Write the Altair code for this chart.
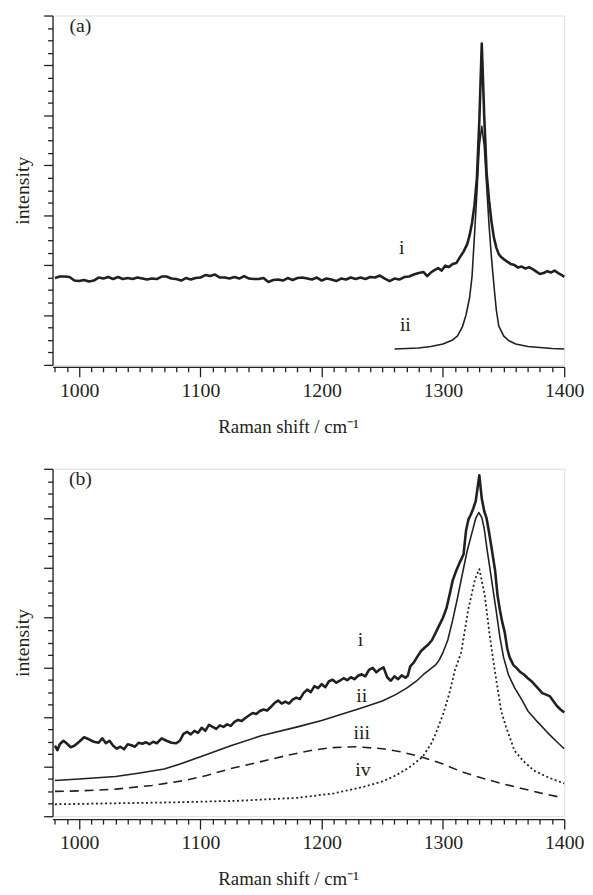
import altair as alt
import pandas as pd

INK = "#231f20"
FONT = "Liberation Serif"

# ---------------- panel (a) ----------------
a_i_x = [980, 984, 988, 992, 996, 1000, 1004, 1008, 1012, 1016, 1020, 1024, 1028, 1032, 1036, 1040,
         1044, 1048, 1052, 1056, 1060, 1064, 1068, 1072, 1076, 1080, 1084, 1088, 1092, 1096, 1100,
         1104, 1108, 1112, 1116, 1120, 1124, 1128, 1132, 1136, 1140, 1144, 1148, 1152, 1156, 1160,
         1164, 1168, 1172, 1176, 1180, 1184, 1188, 1192, 1196, 1200, 1204, 1208, 1212, 1216, 1220,
         1224, 1228, 1232, 1236, 1240, 1244, 1248, 1252, 1256, 1260, 1264, 1268, 1272, 1276, 1280,
         1284, 1287, 1290, 1293, 1296, 1299, 1302, 1305, 1308, 1311, 1314, 1317, 1320, 1322, 1324,
         1326, 1328, 1330, 1332, 1334, 1336, 1338, 1340, 1342, 1344, 1346, 1348, 1350, 1353, 1356,
         1359, 1362, 1365, 1368, 1371, 1374, 1377, 1380, 1383, 1386, 1389, 1392, 1395, 1398, 1400]
a_i_y = [1.74, 1.77, 1.77, 1.76, 1.69, 1.68, 1.70, 1.67, 1.69, 1.75, 1.73, 1.76, 1.72, 1.76, 1.72, 1.74,
         1.72, 1.75, 1.73, 1.71, 1.73, 1.72, 1.77, 1.77, 1.73, 1.72, 1.69, 1.74, 1.71, 1.74, 1.75,
         1.80, 1.78, 1.81, 1.75, 1.75, 1.73, 1.76, 1.73, 1.78, 1.73, 1.72, 1.72, 1.74, 1.66, 1.70,
         1.71, 1.69, 1.74, 1.70, 1.74, 1.75, 1.73, 1.71, 1.75, 1.69, 1.73, 1.71, 1.68, 1.73, 1.71,
         1.75, 1.72, 1.75, 1.72, 1.76, 1.75, 1.79, 1.73, 1.68, 1.73, 1.71, 1.76, 1.77, 1.81, 1.84,
         1.86, 1.78, 1.85, 1.90, 1.94, 1.89, 1.99, 1.96, 2.02, 2.04, 2.16, 2.27, 2.42, 2.60, 2.85,
         3.20, 3.75, 4.90, 6.44, 5.00, 3.85, 3.30, 2.87, 2.55, 2.35, 2.22, 2.16, 2.12, 2.07, 2.02,
         2.00, 1.95, 1.97, 1.93, 1.96, 1.92, 1.87, 1.82, 1.84, 1.88, 1.85, 1.89, 1.84, 1.80, 1.76]

a_ii_x = [1260, 1280, 1290, 1300, 1308, 1312, 1316, 1319, 1322, 1324, 1326, 1328, 1330, 1332,
          1334, 1336, 1338, 1340, 1342, 1344, 1346, 1350, 1354, 1360, 1370, 1380, 1390, 1400]
a_ii_y = [0.32, 0.34, 0.37, 0.42, 0.50, 0.58, 0.76, 1.00, 1.35, 1.78, 2.60, 3.45, 4.40, 4.78,
          4.40, 3.60, 2.80, 2.15, 1.60, 1.10, 0.78, 0.58, 0.49, 0.42, 0.37, 0.35, 0.33, 0.32]

# ---------------- panel (b) ----------------
b_i_x = [980, 982, 984, 987, 990, 993, 996, 1000, 1004, 1008, 1012, 1016, 1019, 1022, 1025, 1028,
         1031, 1034, 1037, 1040, 1043, 1046, 1049, 1052, 1055, 1058, 1061, 1064, 1068, 1072, 1076,
         1080, 1083, 1086, 1089, 1092, 1095, 1098, 1101, 1104, 1107, 1110, 1113, 1116, 1119, 1122,
         1125, 1128, 1131, 1134, 1137, 1140, 1143, 1146, 1149, 1152, 1155, 1158, 1161, 1164, 1167,
         1170, 1173, 1176, 1179, 1182, 1185, 1188, 1191, 1194, 1197, 1200, 1203, 1206, 1209, 1212,
         1215, 1218, 1221, 1224, 1227, 1230, 1233, 1236, 1239, 1242, 1245, 1248, 1251, 1254, 1257,
         1260, 1263, 1266, 1269, 1271, 1273, 1276, 1279, 1282, 1285, 1288, 1291, 1294, 1297, 1300,
         1303, 1306, 1308, 1311, 1314, 1317, 1319, 1321, 1323, 1325, 1327, 1330, 1332, 1334, 1336,
         1338, 1340, 1343, 1345, 1347, 1349, 1351, 1353, 1355, 1358, 1361, 1364, 1367, 1370, 1373,
         1376, 1379, 1382, 1385, 1388, 1391, 1394, 1397, 1400]
b_i_y = [1.42, 1.33, 1.45, 1.52, 1.46, 1.39, 1.42, 1.50, 1.59, 1.55, 1.50, 1.48, 1.57, 1.47, 1.52, 1.42,
         1.36, 1.40, 1.35, 1.45, 1.43, 1.40, 1.48, 1.46, 1.49, 1.45, 1.50, 1.47, 1.57, 1.52, 1.48,
         1.47, 1.52, 1.66, 1.70, 1.65, 1.72, 1.68, 1.78, 1.72, 1.84, 1.80, 1.76, 1.83, 1.80, 1.85,
         1.82, 1.90, 1.94, 1.92, 1.98, 2.03, 2.08, 2.06, 2.12, 2.15, 2.13, 2.20, 2.28, 2.33, 2.27,
         2.31, 2.27, 2.35, 2.39, 2.36, 2.48, 2.55, 2.50, 2.62, 2.58, 2.66, 2.60, 2.72, 2.75, 2.69,
         2.73, 2.78, 2.74, 2.80, 2.76, 2.83, 2.86, 2.82, 2.95, 2.99, 2.90, 2.96, 3.00, 2.80, 2.73,
         2.82, 2.76, 2.84, 2.79, 2.83, 3.02, 3.10, 3.22, 3.33, 3.40, 3.46, 3.55, 3.70, 3.85, 4.00,
         4.20, 4.52, 4.75, 4.95, 5.12, 5.28, 5.75, 5.98, 6.08, 6.20, 6.35, 6.87, 6.40, 6.15, 6.00,
         5.72, 5.42, 4.95, 4.45, 4.15, 3.90, 3.70, 3.38, 3.20, 3.05, 2.98, 2.90, 2.85, 2.78, 2.72,
         2.64, 2.56, 2.48, 2.45, 2.42, 2.32, 2.22, 2.15, 2.09]

b_ii_x = [980, 1000, 1030, 1050, 1070, 1082, 1100, 1125, 1150, 1180, 1200, 1234, 1250, 1261, 1270,
          1278, 1285, 1294, 1297, 1300, 1304, 1308, 1312, 1316, 1320, 1324, 1327, 1329.5, 1332,
          1334, 1336.5, 1339, 1342, 1344, 1347, 1350, 1354, 1359, 1365, 1370, 1378, 1386, 1393, 1400]
b_ii_y = [0.72, 0.75, 0.80, 0.87, 0.95, 1.04, 1.20, 1.42, 1.62, 1.80, 1.93, 2.19, 2.32, 2.45, 2.58,
          2.72, 2.88, 3.05, 3.15, 3.30, 3.55, 3.95, 4.40, 4.88, 5.35, 5.72, 6.00, 6.12, 6.02,
          5.80, 5.35, 4.95, 4.45, 4.12, 3.60, 3.20, 2.85, 2.59, 2.35, 2.12, 1.90, 1.69, 1.52, 1.36]

b_iii_x = [980, 1000, 1030, 1060, 1087, 1105, 1125, 1150, 1174, 1190, 1207, 1228, 1250, 1265, 1283,
           1300, 1316, 1332, 1348, 1365, 1380, 1397]
b_iii_y = [0.50, 0.51, 0.545, 0.62, 0.72, 0.82, 0.96, 1.10, 1.24, 1.32, 1.38, 1.40, 1.36, 1.30, 1.19,
           1.05, 0.89, 0.77, 0.66, 0.56, 0.47, 0.38]

b_iv_x = [980, 1030, 1080, 1130, 1180, 1210, 1234, 1250, 1261, 1272, 1283, 1290, 1294, 1300, 1305,
          1310, 1315, 1321, 1326.5, 1330, 1334.5, 1338.5, 1342, 1348, 1352, 1359, 1366, 1375, 1387, 1400]
b_iv_y = [0.24, 0.26, 0.28, 0.31, 0.37, 0.46, 0.59, 0.70, 0.82, 0.98, 1.19, 1.45, 1.66, 2.05, 2.45,
          2.95, 3.30, 4.18, 4.78, 4.98, 4.45, 3.65, 3.05, 2.12, 1.80, 1.32, 1.12, 0.92, 0.78, 0.66]

# ---------------- annotations ----------------
a_label_text = ["i", "ii"]
a_label_x = [1266, 1269]
a_label_y = [2.34, 0.79]
b_label_text = ["i", "ii", "iii", "iv"]
b_label_x = [1232, 1233, 1233, 1234]
b_label_y = [3.55, 2.42, 1.67, 0.93]
panel_text = ["(a)", "(b)"]
panel_x = [1001, 1001]
panel_y = [6.78, 6.80]

X_DOMAIN = [978, 1400]
Y_DOMAIN = [0, 7]
X_TICKS = list(range(980, 1401, 10))
Y_TICKS = [k * 0.25 for k in range(29)]


def x_enc(offset):
    return alt.X(
        "x:Q",
        scale=alt.Scale(domain=X_DOMAIN, nice=False, zero=False),
        axis=alt.Axis(
            values=X_TICKS, format="d",
            labelExpr="datum.value % 100 === 0 ? datum.label : ''",
            tickSize={"condition": {"test": "datum.value % 100 === 0", "value": 10}, "value": 5},
            grid=False, domainColor=INK, tickColor=INK, domainWidth=1.3, tickWidth=1.3,
            labelFont=FONT, labelFontSize=20, labelColor=INK, labelPadding=4,
            labelOverlap=False, labelFlush=False, labelBound=False,
            title="Raman shift / cm\u207b\u00b9", titleFont=FONT, titleFontSize=19,
            titleFontWeight="normal", titleColor=INK, titleX=238, titleY=66,
            titleAlign="center", titleBaseline="alphabetic", offset=offset,
        ),
    )


def y_enc(h):
    return alt.Y(
        "y:Q",
        scale=alt.Scale(domain=Y_DOMAIN, nice=False, zero=False),
        axis=alt.Axis(
            values=Y_TICKS, labels=False,
            tickSize={"condition": {"test": "datum.value % 1 === 0", "value": 9}, "value": 5},
            grid=False, domainColor=INK, tickColor=INK, domainWidth=1.3, tickWidth=1.3,
            title="intensity", titleFont=FONT, titleFontSize=20, titleFontWeight="normal",
            titleColor=INK, titleX=-30, titleY=h / 2, titleAlign="center",
            titleBaseline="middle", titleAngle=270,
        ),
    )


def line(xs, ys, width, dash, offset, h):
    df = pd.DataFrame({"x": xs, "y": ys})
    props = dict(color=INK, strokeWidth=width, strokeJoin="round")
    if dash:
        props["strokeDash"] = dash
        props["strokeCap"] = "butt"
    return alt.Chart(df).mark_line(**props).encode(x=x_enc(offset), y=y_enc(h))


def texts(labels, xs, ys, offset, h):
    df = pd.DataFrame({"x": xs, "y": ys, "t": labels})
    return alt.Chart(df).mark_text(
        font=FONT, fontSize=20, color=INK, align="center", baseline="middle"
    ).encode(x=x_enc(offset), y=y_enc(h), text="t:N")


HA, HB, W = 353, 351, 517

panel_a = alt.layer(
    line(a_i_x, a_i_y, 2.6, None, 2, HA),
    line(a_ii_x, a_ii_y, 1.6, None, 2, HA),
    texts(a_label_text, a_label_x, a_label_y, 2, HA),
    texts(panel_text[:1], panel_x[:1], panel_y[:1], 2, HA),
).properties(width=W, height=HA)

panel_b = alt.layer(
    line(b_i_x, b_i_y, 2.6, None, 3, HB),
    line(b_ii_x, b_ii_y, 1.6, None, 3, HB),
    line(b_iii_x, b_iii_y, 1.6, [9, 6], 3, HB),
    line(b_iv_x, b_iv_y, 1.8, [2, 2.6], 3, HB),
    texts(b_label_text, b_label_x, b_label_y, 3, HB),
    texts(panel_text[1:], panel_x[1:], panel_y[1:], 3, HB),
).properties(width=W, height=HB)

chart = alt.vconcat(panel_a, panel_b, spacing=30).properties(
    padding={"left": 4, "top": 1, "right": 0, "bottom": 0}
).configure_view(stroke=None).configure(background="white")

chart.save("out.html", embed_options={"renderer": "svg", "actions": False})
